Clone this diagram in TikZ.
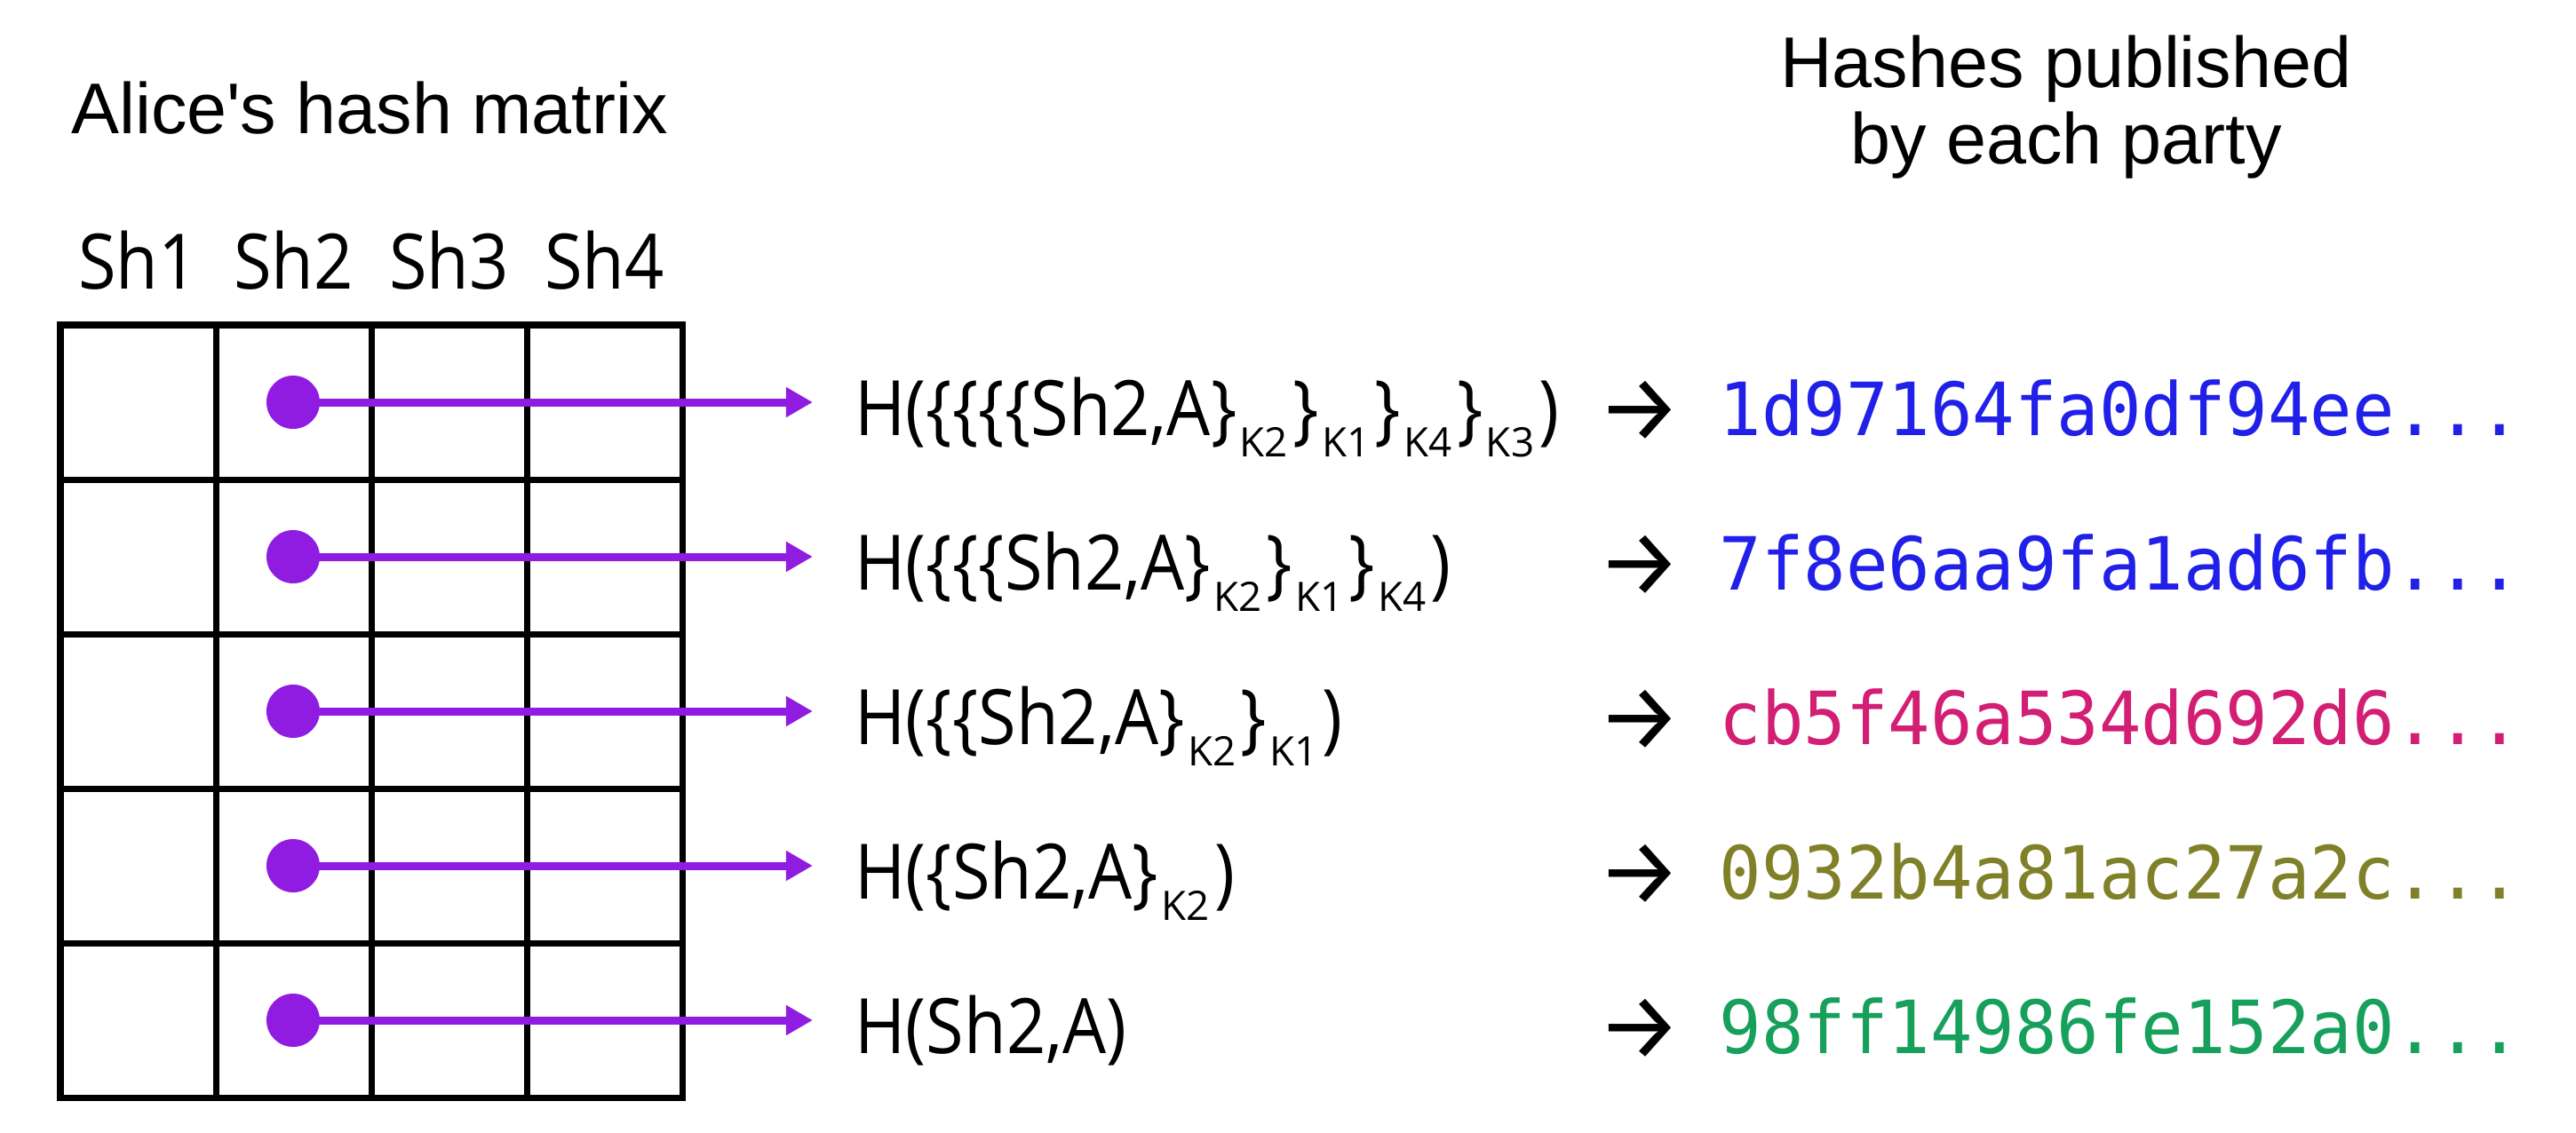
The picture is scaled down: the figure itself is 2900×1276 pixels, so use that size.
\documentclass[tikz,border=0pt]{standalone}
\usepackage{fontspec}
\setmainfont{Open Sans}
\newfontfamily\labfont[FakeStretch=0.9]{Open Sans}
\newfontfamily\subfont{Open Sans}
\newfontfamily\headfont{Liberation Sans}
\newfontfamily\hashfont[FakeStretch=0.955]{DejaVu Sans Mono}
\newfontfamily\arrfont{Fira Sans}
\usetikzlibrary{arrows.meta}
\definecolor{dotpurple}{RGB}{145,28,225}
\definecolor{hblue}{RGB}{32,32,232}
\definecolor{hpink}{RGB}{210,30,115}
\definecolor{holive}{RGB}{128,128,40}
\definecolor{hgreen}{RGB}{22,160,92}
\newcommand\kk[1]{\kern1pt\raisebox{-7pt}{\subfont\fontsize{13}{15}\selectfont #1}\kern1.5pt}
\begin{document}
\begin{tikzpicture}[x=0.01cm,y=-0.01cm,
  heading/.style={font=\headfont\fontsize{23}{27}\selectfont, inner sep=0, anchor=base},
  collabel/.style={font=\labfont\fontsize{24.5}{28}\selectfont, inner sep=0, anchor=base},
  hlabel/.style={font=\labfont\fontsize{24.5}{28}\selectfont, inner sep=0, anchor=base west},
  maparrow/.style={font=\arrfont\fontsize{30}{34}\selectfont, inner sep=0, anchor=base west},
  hashtext/.style={font=\hashfont\fontsize{23.5}{27}\selectfont, inner sep=0, anchor=base west},
  gridline/.style={line width=0.07cm},
  celldot/.style={circle, fill=dotpurple, minimum size=0.6cm, inner sep=0},
  ptr/.style={draw=dotpurple, line width=0.09cm, -{Triangle[length=0.3cm,width=0.32cm]}, shorten >=0.47cm}
]
\useasboundingbox (0,0) rectangle (2900,1276);

% headings
\node[heading] (t1) at (416,151) {Alice's hash matrix};
\node[heading] (t2) at (2326,99) {Hashes published};
\node[heading] (t3) at (2326,185) {by each party};

% column labels
\node[collabel] (c1) at (155.5,325) {Sh1};
\node[collabel] (c2) at (330.5,325) {Sh2};
\node[collabel] (c3) at (505.5,325) {Sh3};
\node[collabel] (c4) at (680.5,325) {Sh4};

% grid
\draw[gridline] (68,366) rectangle (768,1236);
\foreach \x in {243,418,593} \draw[gridline] (\x,366) -- (\x,1236);
\foreach \y in {540,714,888,1062} \draw[gridline] (68,\y) -- (768,\y);

% dots
\node[celldot] (d1) at (330,453) {};
\node[celldot] (d2) at (330,627) {};
\node[celldot] (d3) at (330,801) {};
\node[celldot] (d4) at (330,975) {};
\node[celldot] (d5) at (330,1149) {};

% hash expressions
\node[hlabel] (l1) at (962,490) {H(\{\{\{\{Sh2,A\}\kk{K2}\}\kk{K1}\}\kk{K4}\}\kk{K3})};
\node[hlabel] (l2) at (962,664) {H(\{\{\{Sh2,A\}\kk{K2}\}\kk{K1}\}\kk{K4})};
\node[hlabel] (l3) at (962,838) {H(\{\{Sh2,A\}\kk{K2}\}\kk{K1})};
\node[hlabel] (l4) at (962,1012) {H(\{Sh2,A\}\kk{K2})};
\node[hlabel] (l5) at (962,1186) {H(Sh2,A)};

% pointers
\foreach \i in {1,...,5} \draw[ptr] (d\i.center) -- (d\i.center -| l\i.west);

% mapping arrows
\node[maparrow] (a1) at (1798,496) {→};
\node[maparrow] (a2) at (1798,670) {→};
\node[maparrow] (a3) at (1798,844) {→};
\node[maparrow] (a4) at (1798,1018) {→};
\node[maparrow] (a5) at (1798,1192) {→};

% hashes
\node[hashtext, text=hblue] (h1) at (1935,490) {1d97164fa0df94ee...};
\node[hashtext, text=hblue] (h2) at (1935,664) {7f8e6aa9fa1ad6fb...};
\node[hashtext, text=hpink] (h3) at (1935,838) {cb5f46a534d692d6...};
\node[hashtext, text=holive] (h4) at (1935,1012) {0932b4a81ac27a2c...};
\node[hashtext, text=hgreen] (h5) at (1935,1186) {98ff14986fe152a0...};
\end{tikzpicture}
\end{document}
